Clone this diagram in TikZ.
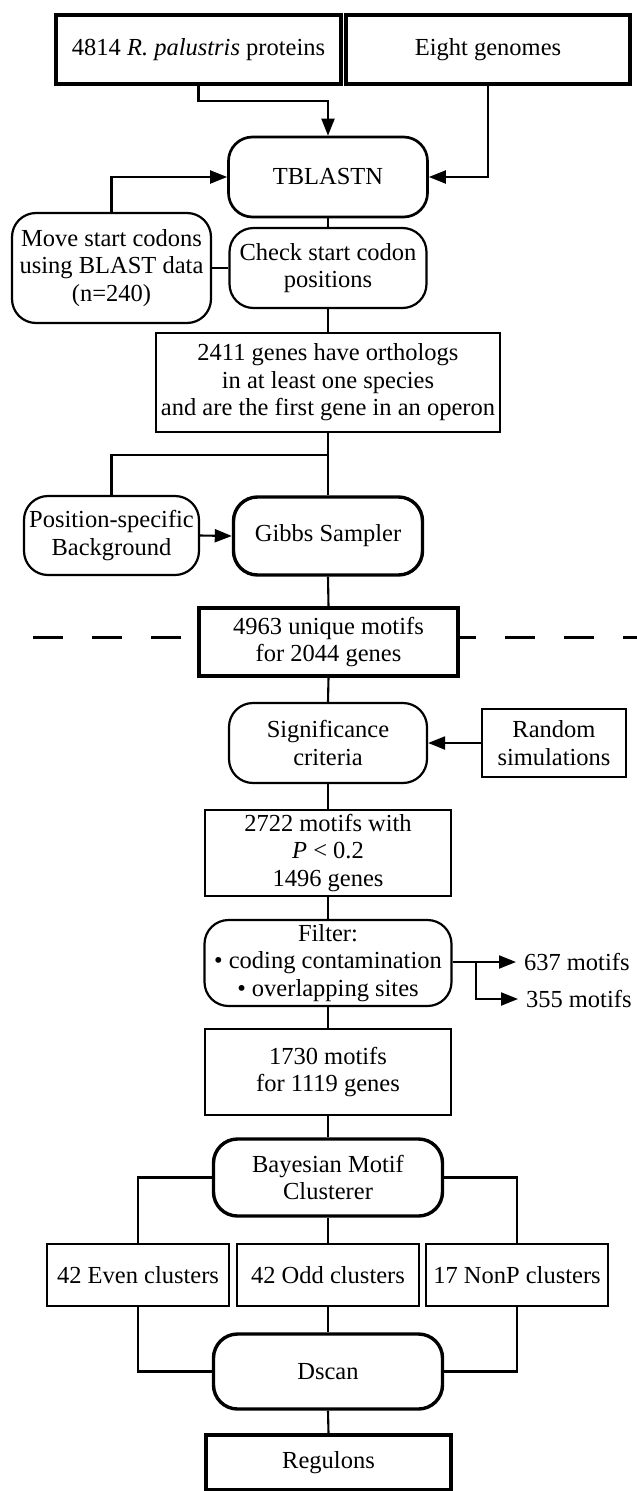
\documentclass[tikz,border=0pt]{standalone}
\usepackage{fontspec}
\setmainfont{Liberation Serif}
\usetikzlibrary{arrows.meta}

\begin{document}
\begin{tikzpicture}[x=1pt, y=-1pt, line width=2.1pt,
    >={Triangle[length=17pt,width=13pt]},
    scatola/.style={draw, fill=white, line width=2.2pt, align=center, inner sep=0pt,
        font=\fontsize{24.5}{27.5}\selectfont},
    spessa/.style={scatola, line width=3.4pt},
    tonda/.style={scatola, rounded corners=24pt},
    tondaspessa/.style={spessa, rounded corners=24pt}]

    \useasboundingbox (0,0) rectangle (637,1491);

    % -- Parte Alta: ricerca degli ortologhi --
    \node[spessa, minimum width=285pt, minimum height=69pt] (prot) at (198.5,49.5)
        {4814 \textit{R. palustris} proteins};
    \node[spessa, minimum width=284pt, minimum height=69pt] (geno) at (488,49.5)
        {Eight genomes};
    \node[tonda, line width=2.7pt, minimum width=199pt, minimum height=80pt] (tblastn) at (328,177)
        {TBLASTN};
    \node[tonda, minimum width=199pt, minimum height=110pt] (move) at (111.5,268)
        {Move start codons\\using BLAST data\\(n=240)};
    \node[tonda, minimum width=197pt, minimum height=80pt] (check) at (328,268)
        {Check start codon\\positions};
    \node[scatola, minimum width=344pt, minimum height=99pt] (orto) at (328,382.5)
        {2411 genes have orthologs\\in at least one species\\and are the first gene in an operon};

    \draw[->] (prot.south) -- ++(0,15) -| (tblastn.north);
    \draw[->] (geno.south) |- (tblastn.east);
    \draw[->] (move.north) |- (tblastn.west);
    \draw (move.east) -- (check.west);
    \draw (tblastn.south) -- (check.north);
    \draw (check.south) -- (orto.north);

    % -- Gibbs Sampler --
    \node[tonda, minimum width=175pt, minimum height=79pt] (sfondo) at (111.5,535.5)
        {Position-specific\\Background};
    \node[tondaspessa, minimum width=189pt, minimum height=78pt] (gibbs) at (328,536)
        {Gibbs Sampler};

    \draw (orto.south) -- (gibbs.north);
    \draw (orto.south) -- ++(0,22) -| (sfondo.north);
    \draw[->] (sfondo.east) -- (gibbs.west);

    % Linea tratteggiata di separazione
    \draw[line width=3pt, dash pattern=on 30pt off 29pt] (33,637) -- (637,637);

    % -- Parte Bassa: motivi e cluster --
    \node[spessa, minimum width=259pt, minimum height=68pt] (unici) at (328.5,642)
        {4963 unique motifs\\for 2044 genes};
    \node[tonda, minimum width=198pt, minimum height=80pt] (signif) at (328,743)
        {Significance\\criteria};
    \node[scatola, minimum width=144pt, minimum height=68pt] (random) at (554,743)
        {Random\\simulations};
    \node[scatola, minimum width=246pt, minimum height=86pt] (pval) at (328,853)
        {2722 motifs with\\\textit{P} < 0.2\\1496 genes};
    \node[tonda, minimum width=247pt, minimum height=86pt] (filtro) at (328,963)
        {Filter:\\\textbullet\ coding contamination\\\textbullet\ overlapping sites};
    \node[font=\fontsize{24.5}{27.5}\selectfont, anchor=west, inner sep=0pt] (m637) at (523,962)
        {637 motifs};
    \node[font=\fontsize{24.5}{27.5}\selectfont, anchor=west, inner sep=0pt] (m355) at (525,999)
        {355 motifs};
    \coordinate (bivio) at (476,962);
    \node[scatola, minimum width=246pt, minimum height=86pt] (finali) at (328,1072)
        {1730 motifs\\for 1119 genes};

    \draw (gibbs.south) -- (unici.north);
    \draw (unici.south) -- (signif.north);
    \draw[->] (random.west) -- (signif.east);
    \draw (signif.south) -- (pval.north);
    \draw (pval.south) -- (filtro.north);
    \draw (filtro.east |- bivio) -- (bivio);
    \draw[->] (bivio) -- ([xshift=-7pt]m637.west);
    \draw[->] (bivio) |- ([xshift=-7pt]m355.west);
    \draw (filtro.south) -- (finali.north);

    \node[tondaspessa, minimum width=229pt, minimum height=77pt] (bayes) at (328,1177.5)
        {Bayesian Motif\\Clusterer};
    \node[scatola, minimum width=182pt, minimum height=62pt] (pari) at (138,1275)
        {42 Even clusters};
    \node[scatola, minimum width=182pt, minimum height=62pt] (dispari) at (328,1275)
        {42 Odd clusters};
    \node[scatola, minimum width=182pt, minimum height=62pt] (nonp) at (517,1275)
        {17 NonP clusters};
    \node[tondaspessa, minimum width=229pt, minimum height=75pt] (dscan) at (328,1371.5)
        {Dscan};
    \node[spessa, minimum width=245pt, minimum height=55pt] (regoloni) at (328.5,1462.5)
        {Regulons};

    \draw (finali.south) -- (bayes.north);
    \draw (bayes.west) -| (pari.north);
    \draw (bayes.east) -| (nonp.north);
    \draw (bayes.south) -- (dispari.north);
    \draw (pari.south) |- (dscan.west);
    \draw (nonp.south) |- (dscan.east);
    \draw (dispari.south) -- (dscan.north);
    \draw (dscan.south) -- (regoloni.north);

\end{tikzpicture}
\end{document}
